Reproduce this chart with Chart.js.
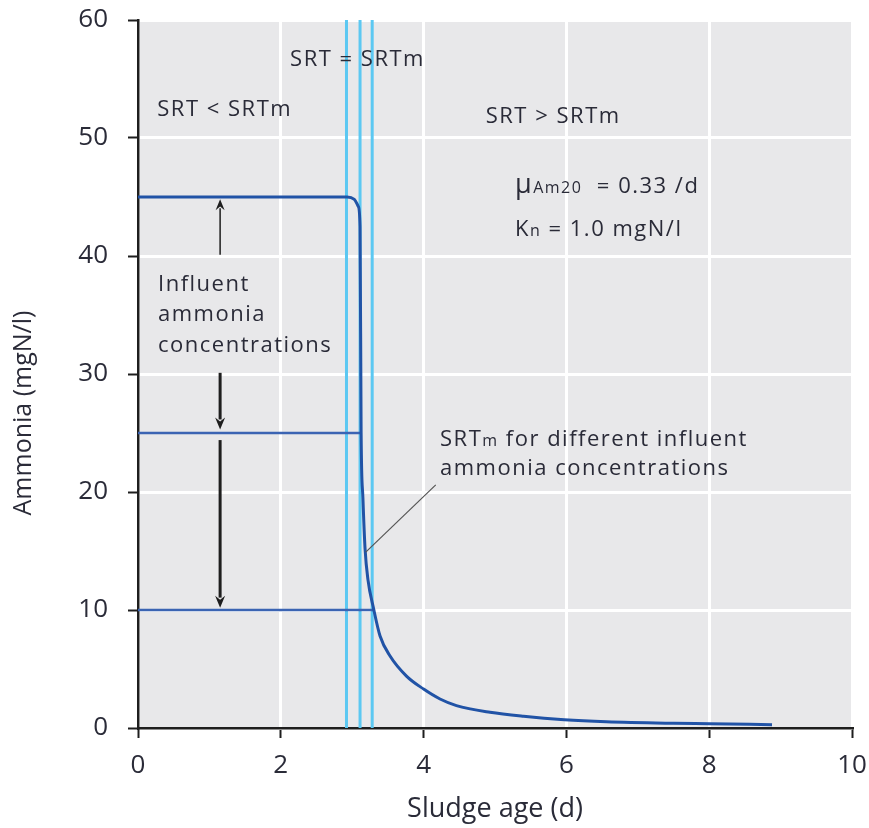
<!DOCTYPE html>
<html>
<head>
<meta charset="utf-8">
<script src="https://cdn.jsdelivr.net/npm/chart.js@4/dist/chart.umd.min.js"></script>
<style>
  html, body { margin: 0; padding: 0; background: #fff; }
  canvas { display: block; }
</style>
</head>
<body>
<canvas id="chart" width="869" height="828"></canvas>
<script>
// data
const curveX = [0, 2.93, 3.03, 3.085, 3.11, 3.125, 3.15, 3.18, 3.22, 3.3, 3.39, 3.53, 3.76, 4.0, 4.23, 4.46, 4.93, 5.4, 5.97, 6.56, 7.5, 8.0, 8.88];
const curveY = [45, 45, 44.8, 44.2, 42.5, 25, 19.5, 15.2, 12.6, 10.1, 7.8, 6.1, 4.4, 3.3, 2.46, 1.9, 1.33, 0.99, 0.7, 0.53, 0.4, 0.36, 0.28];
const influentLevels = [25, 10];
const influentSrtm = [3.125, 3.3];
const srtmLines = [2.92, 3.11, 3.28];
const xTicks = [0, 2, 4, 6, 8, 10];
const yTicks = [0, 10, 20, 30, 40, 50, 60];

const FONT = '"Open Sans", "DejaVu Sans", sans-serif';
const TEXT = '#2a2b38';

const datasets = [];
datasets.push({
  data: curveX.map((x, i) => ({ x, y: curveY[i] })),
  borderColor: '#2153a6', borderWidth: 3, pointRadius: 0,
  cubicInterpolationMode: 'monotone', order: 1,
});
influentLevels.forEach((lvl, i) => {
  datasets.push({
    data: [{ x: 0, y: lvl }, { x: influentSrtm[i], y: lvl }],
    borderColor: '#3b64b3', borderWidth: 2.5, pointRadius: 0, order: 2,
  });
});
srtmLines.forEach((s) => {
  datasets.push({
    data: [{ x: s, y: 0 }, { x: s, y: 60 }],
    borderColor: '#5cc8f2', borderWidth: 3, pointRadius: 0, order: 3,
  });
});

// draw runs of text with different sizes on one baseline
function runs(ctx, x, y, parts) {
  let cx = x;
  parts.forEach(([t, size]) => {
    ctx.font = size + 'px ' + FONT;
    ctx.fillText(t, cx, y);
    cx += ctx.measureText(t).width;
  });
}

function arrow(ctx, x, y0, y1, w, head) {
  const dir = Math.sign(y1 - y0);
  ctx.lineWidth = w;
  ctx.beginPath();
  ctx.moveTo(x, y0);
  ctx.lineTo(x, y1 - dir * head);
  ctx.stroke();
  ctx.beginPath();
  ctx.moveTo(x, y1);
  ctx.lineTo(x - head * 0.5, y1 - dir * head * 1.2);
  ctx.lineTo(x, y1 - dir * head * 0.8);
  ctx.lineTo(x + head * 0.5, y1 - dir * head * 1.2);
  ctx.closePath();
  ctx.fill();
}

const plotBg = {
  id: 'plotBg',
  beforeDraw(chart) {
    const { ctx, chartArea: a } = chart;
    ctx.save();
    ctx.fillStyle = '#e8e8ea';
    ctx.fillRect(a.left, a.top, a.right - a.left, a.bottom - a.top);
    ctx.restore();
  },
};

const notes = {
  id: 'notes',
  afterDatasetsDraw(chart) {
    const { ctx, scales: { x, y } } = chart;
    const px = (v) => x.getPixelForValue(v);
    const py = (v) => y.getPixelForValue(v);
    ctx.save();
    ctx.fillStyle = TEXT;
    ctx.letterSpacing = '1.5px';
    ctx.textBaseline = 'middle';
    ctx.textAlign = 'left';
    runs(ctx, px(2.13), py(56.6), [['SRT = SRTm', 22]]);
    runs(ctx, px(0.27), py(52.4), [['SRT < SRTm', 22]]);
    runs(ctx, px(4.87), py(51.8), [['SRT > SRTm', 22]]);
    ctx.textBaseline = 'alphabetic';
    runs(ctx, px(5.28), py(45.3), [['\u03bc', 27], ['Am20', 16], ['  = 0.33 /d', 22]]);
    runs(ctx, px(5.28), py(41.7), [['K', 22], ['n', 16], [' = 1.0 mgN/l', 22]]);
    ctx.textBaseline = 'middle';
    ['Influent', 'ammonia', 'concentrations'].forEach((t, i) => {
      runs(ctx, px(0.28), py(37.6 - i * 2.6), [[t, 22]]);
    });
    ctx.textBaseline = 'alphabetic';
    runs(ctx, px(4.23), py(23.9), [['SRT', 22], ['m', 16], [' for different influent', 22]]);
    runs(ctx, px(4.23), py(21.4), [['ammonia concentrations', 22]]);
    ctx.letterSpacing = '0px';

    // pointer to the curve
    ctx.strokeStyle = '#555';
    ctx.lineWidth = 1.2;
    ctx.beginPath();
    ctx.moveTo(px(4.17), py(20.6));
    ctx.lineTo(px(3.19), py(14.9));
    ctx.stroke();

    // arrows
    ctx.strokeStyle = '#1e1e1e';
    ctx.fillStyle = '#1e1e1e';
    arrow(ctx, px(1.15), py(40.1), py(44.8), 1.5, 9);
    arrow(ctx, px(1.15), py(30.1), py(25.3), 3, 10);
    arrow(ctx, px(1.15), py(24.4), py(10.2), 3, 10);

    // y axis title, sits a bit below the middle of the axis
    ctx.save();
    ctx.translate(24, 413);
    ctx.rotate(-Math.PI / 2);
    ctx.textAlign = 'center';
    ctx.textBaseline = 'middle';
    ctx.fillStyle = TEXT;
    ctx.font = '25px ' + FONT;
    ctx.fillText('Ammonia (mgN/l)', 0, 0);
    ctx.restore();
    ctx.restore();
  },
};

new Chart(document.getElementById('chart'), {
  type: 'line',
  data: { datasets },
  plugins: [plotBg, notes],
  options: {
    responsive: false,
    animation: false,
    layout: { padding: { top: 20, right: 17, left: 0, bottom: 0 } },
    plugins: { legend: { display: false }, tooltip: { enabled: false } },
    scales: {
      x: {
        type: 'linear', min: 0, max: 10,
        afterFit(s) { s.height = 100; s.paddingLeft = 0; s.paddingRight = 0; },
        afterBuildTicks(s) { s.ticks = xTicks.map((v) => ({ value: v })); },
        grid: { color: '#ffffff', lineWidth: 3, tickColor: '#1e1e1e', tickLength: 10, tickWidth: 2 },
        border: { color: '#1e1e1e', width: 2.5 },
        ticks: { color: TEXT, padding: 12, font: { family: FONT, size: 26 } },
        title: { display: true, text: 'Sludge age (d)', color: TEXT, font: { family: FONT, size: 27 }, padding: { top: 4, bottom: 2 } },
      },
      y: {
        type: 'linear', min: 0, max: 60,
        afterFit(s) { s.width = 138; s.paddingTop = 0; s.paddingBottom = 0; },
        afterBuildTicks(s) { s.ticks = yTicks.map((v) => ({ value: v })); },
        grid: { color: '#ffffff', lineWidth: 3, tickColor: '#1e1e1e', tickLength: 10, tickWidth: 2 },
        border: { color: '#1e1e1e', width: 2.5 },
        ticks: { color: TEXT, padding: 20, font: { family: FONT, size: 26 } },
        title: { display: false },
      },
    },
  },
});
</script>
</body>
</html>
